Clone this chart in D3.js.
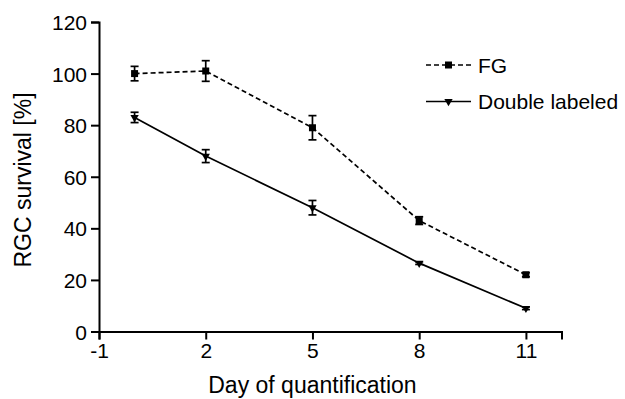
<!DOCTYPE html>
<html>
<head>
<meta charset="utf-8">
<script src="https://cdn.jsdelivr.net/npm/d3@7"></script>
<style>
  body { margin: 0; background: #fff; }
  text { font-family: "Liberation Sans", Arial, sans-serif; fill: #000; }
</style>
</head>
<body>
<div id="chart"></div>
<script>
// days of quantification
var days = [0, 2, 5, 8, 11];

// FG series (mean and error)
var fgMean = [100, 101, 79, 43, 22];
var fgErr = [2.8, 4, 4.7, 1.5, 0.8];

// double labeled series
var dlMean = [83, 68, 48, 26.5, 9];
var dlErr = [2, 2.5, 2.8, 0.5, 0.5];

var xTicks = [-1, 2, 5, 8, 11];
var yTicks = [0, 20, 40, 60, 80, 100, 120];

var width = 625;
var height = 399;

var svg = d3.select('#chart')
  .append('svg')
  .attr('width', width)
  .attr('height', height);

// scales
var x = d3.scaleLinear().domain([-1, 12]).range([99, 561.5]);
var y = d3.scaleLinear().domain([0, 120]).range([331.5, 22]);

// axes (plain hyphen for negative numbers like the original)
var fmt = function(d) { return String(d); };
var xAxis = d3.axisBottom(x).tickValues(xTicks).tickFormat(fmt).tickSizeOuter(0).tickSize(8).tickPadding(4);
var yAxis = d3.axisLeft(y).tickValues(yTicks).tickFormat(fmt).tickSizeOuter(0).tickSize(8).tickPadding(4);

var gx = svg.append('g')
  .attr('transform', 'translate(0,' + y(0) + ')')
  .call(xAxis);

var gy = svg.append('g')
  .attr('transform', 'translate(' + x(-1) + ',0)')
  .call(yAxis);

[gx, gy].forEach(function(g) {
  g.selectAll('path, line').attr('stroke', '#000').attr('stroke-width', 2);
  g.selectAll('text').style('font-size', '21px').attr('fill', '#000');
});
gy.selectAll('text').attr('dy', '0.36em');

// axis titles
svg.append('text')
  .attr('x', x(5))
  .attr('y', 393)
  .attr('text-anchor', 'middle')
  .style('font-size', '23px')
  .text('Day of quantification');

svg.append('text')
  .attr('transform', 'translate(31,' + 180 + ') rotate(-90)')
  .attr('text-anchor', 'middle')
  .style('font-size', '23px')
  .text('RGC survival [%]');

var series = [
  { name: 'FG', mean: fgMean, err: fgErr, dash: '5,3', marker: 'square' },
  { name: 'Double labeled', mean: dlMean, err: dlErr, dash: null, marker: 'triangle' }
];

var line = d3.line()
  .x(function(d) { return x(d[0]); })
  .y(function(d) { return y(d[1]); });

function drawMarker(g, type, cx, cy) {
  if (type === 'square') {
    g.append('rect')
      .attr('x', cx - 3.5).attr('y', cy - 3.5)
      .attr('width', 7).attr('height', 7)
      .attr('fill', '#000');
  } else {
    g.append('path')
      .attr('d', d3.symbol().type(d3.symbolTriangle).size(30)())
      .attr('transform', 'translate(' + cx + ',' + cy + ') rotate(180)')
      .attr('fill', '#000');
  }
}

series.forEach(function(s) {
  var pts = days.map(function(d, i) { return [d, s.mean[i], s.err[i]]; });
  var g = svg.append('g');

  g.append('path')
    .datum(pts)
    .attr('d', line)
    .attr('fill', 'none')
    .attr('stroke', '#000')
    .attr('stroke-width', 1.7)
    .attr('stroke-dasharray', s.dash);

  // error bars
  pts.forEach(function(p) {
    var cx = x(p[0]);
    var top = y(p[1] + p[2]);
    var bot = y(p[1] - p[2]);
    g.append('line').attr('x1', cx).attr('x2', cx).attr('y1', top).attr('y2', bot)
      .attr('stroke', '#000').attr('stroke-width', 1.7);
    [top, bot].forEach(function(yy) {
      g.append('line').attr('x1', cx - 4).attr('x2', cx + 4).attr('y1', yy).attr('y2', yy)
        .attr('stroke', '#000').attr('stroke-width', 1.7);
    });
    drawMarker(g, s.marker, cx, y(p[1]));
  });
});

// legend
series.forEach(function(s, i) {
  var ly = 65 + i * 36.5;
  var g = svg.append('g');
  g.append('line')
    .attr('x1', 426).attr('x2', 471).attr('y1', ly).attr('y2', ly)
    .attr('stroke', '#000').attr('stroke-width', 1.7)
    .attr('stroke-dasharray', s.dash);
  drawMarker(g, s.marker, 448.5, ly);
  g.append('text')
    .attr('x', 478).attr('y', ly)
    .attr('dy', '0.36em')
    .style('font-size', '21px')
    .text(s.name);
});
</script>
</body>
</html>
